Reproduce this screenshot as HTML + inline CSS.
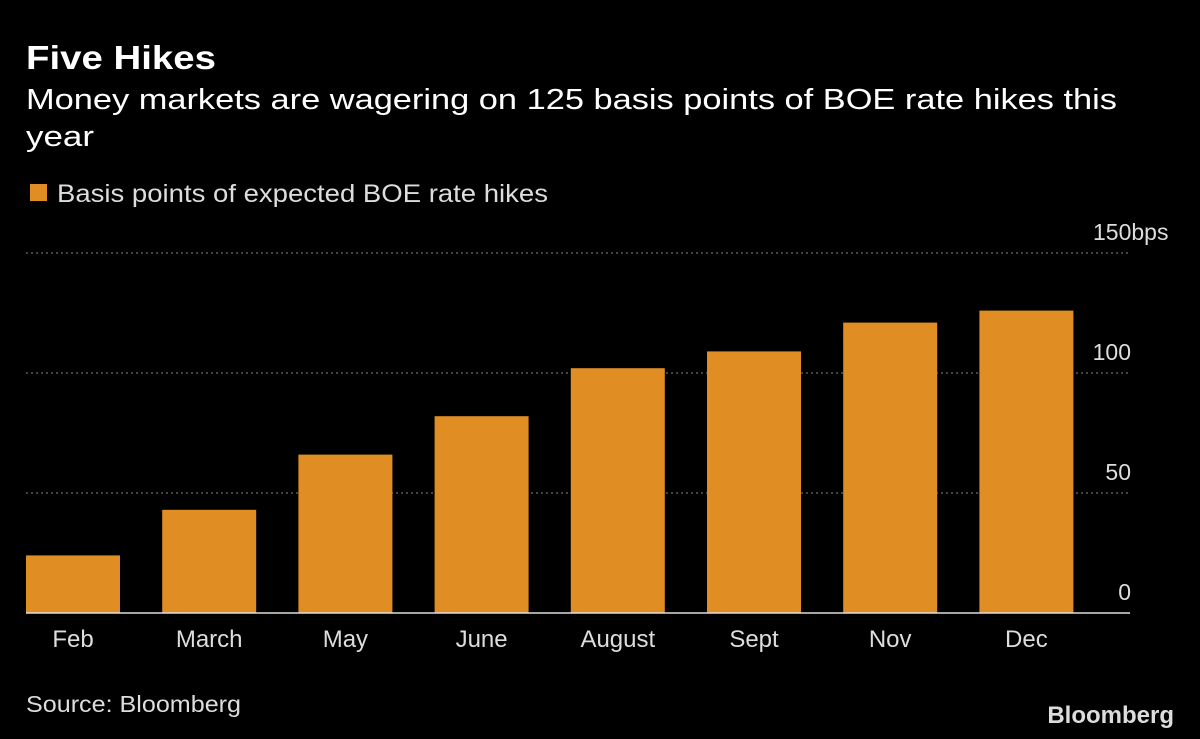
<!DOCTYPE html>
<html><head><meta charset="utf-8"><style>
body{margin:0;background:#000;width:1200px;height:739px;overflow:hidden;font-family:"Liberation Sans",sans-serif;color:#fff}
svg{position:absolute;left:0;top:0}
</style></head><body>
<svg width="1200" height="739">
<text x="26" y="69" font-size="33" font-weight="bold" fill="#fff" textLength="190" lengthAdjust="spacingAndGlyphs">Five Hikes</text>
<text x="26" y="109" font-size="29" fill="#fff" textLength="1091" lengthAdjust="spacingAndGlyphs">Money markets are wagering on 125 basis points of BOE rate hikes this</text>
<text x="26" y="146" font-size="29" fill="#fff" textLength="68" lengthAdjust="spacingAndGlyphs">year</text>
<rect x="30" y="184" width="17" height="17" fill="#e08e24"/>
<text x="57" y="202" font-size="25" fill="#ddd" textLength="491" lengthAdjust="spacingAndGlyphs">Basis points of expected BOE rate hikes</text>
<g id="grid"></g><g id="bars"></g><g id="xlabels"></g>
<line x1="26" y1="613" x2="1130" y2="613" stroke="#ddd" stroke-width="1.5"/>
<text x="26" y="712" font-size="23" fill="#ddd" textLength="215" lengthAdjust="spacingAndGlyphs">Source: Bloomberg</text>
<text x="1174" y="723" font-size="24" font-weight="bold" fill="#ddd" text-anchor="end">Bloomberg</text>
</svg>
<script>
const categories=["Feb","March","May","June","August","Sept","Nov","Dec"];
const values=[24,43,66,82,102,109,121,126];
const ticks=[0,50,100,150];
const tickLabels=["0","50","100","150bps"];
const NS="http://www.w3.org/2000/svg";
const y=v=>613-v*2.4;
const x=i=>26+i*136.2;
const g=document.getElementById("grid"),b=document.getElementById("bars"),xl=document.getElementById("xlabels");
ticks.forEach((t,i)=>{
 if(t>0){const l=document.createElementNS(NS,"line");
 
 
 l.setAttribute("x1",26);l.setAttribute("x2",1130);l.setAttribute("y1",y(t));l.setAttribute("y2",y(t));
 l.setAttribute("stroke","#888");l.setAttribute("stroke-dasharray","2,3");g.appendChild(l);}
 const tx=document.createElementNS(NS,"text");
 
 
 const lab=tickLabels[i];
 if(lab.indexOf("bps")>=0){tx.setAttribute("x",1093);tx.setAttribute("text-anchor","start");}
 else{tx.setAttribute("x",1131);tx.setAttribute("text-anchor","end");}
 tx.setAttribute("y",y(t)-13);
 tx.setAttribute("font-size","23");tx.setAttribute("fill","#ddd");tx.textContent=lab;g.appendChild(tx);
});
categories.forEach((c,i)=>{
 const r=document.createElementNS(NS,"rect");
 
 
 r.setAttribute("x",x(i));r.setAttribute("width",94);r.setAttribute("y",y(values[i]));
 r.setAttribute("height",613-y(values[i]));r.setAttribute("fill","#e08e24");b.appendChild(r);
 const t=document.createElementNS(NS,"text");
 
 
 t.setAttribute("x",x(i)+47);t.setAttribute("y",647);t.setAttribute("text-anchor","middle");
 t.setAttribute("font-size","24");t.setAttribute("fill","#ddd");t.textContent=c;xl.appendChild(t);
});
</script>
</body></html>
